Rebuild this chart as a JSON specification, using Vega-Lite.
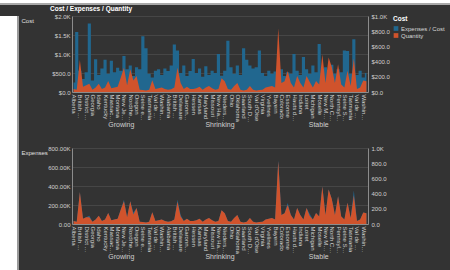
{
  "$schema": "https://vega.github.io/schema/vega-lite/v6.json",
  "background": "#333333",
  "padding": 0,
  "spacing": 0,
  "config": {
    "font": "Liberation Sans",
    "view": {"stroke": null},
    "axis": {"labelColor": "#d0d0d0", "labelFontSize": 6, "titleColor": "#e0e0e0", "titleFontSize": 6, "titleFontWeight": "normal", "domainColor": "#8c8c8c", "gridColor": "#464646", "ticks": false}
  },
  "datasets": {
    "d": [
      {"k": "Gro|Alberta", "grp": "Growing", "cost": 250, "qty": 40, "exp": 32000},
      {"k": "Gro|Arizona", "grp": "Growing", "cost": 1580, "qty": 30, "exp": 24000},
      {"k": "Gro|British Columbia", "grp": "Growing", "cost": 560, "qty": 420, "exp": 336000},
      {"k": "Gro|California", "grp": "Growing", "cost": 340, "qty": 70, "exp": 56000},
      {"k": "Gro|District of Columbia", "grp": "Growing", "cost": 520, "qty": 90, "exp": 72000},
      {"k": "Gro|Florida", "grp": "Growing", "cost": 1800, "qty": 110, "exp": 70000},
      {"k": "Gro|Georgia", "grp": "Growing", "cost": 300, "qty": 30, "exp": 24000},
      {"k": "Gro|Hamburg", "grp": "Growing", "cost": 860, "qty": 60, "exp": 48000},
      {"k": "Gro|Idaho", "grp": "Growing", "cost": 450, "qty": 110, "exp": 88000},
      {"k": "Gro|Iowa", "grp": "Growing", "cost": 620, "qty": 40, "exp": 32000},
      {"k": "Gro|Kentucky", "grp": "Growing", "cost": 850, "qty": 60, "exp": 48000},
      {"k": "Gro|Maine", "grp": "Growing", "cost": 480, "qty": 145, "exp": 116000},
      {"k": "Gro|Massachusetts", "grp": "Growing", "cost": 820, "qty": 50, "exp": 40000},
      {"k": "Gro|Minnesota", "grp": "Growing", "cost": 520, "qty": 60, "exp": 48000},
      {"k": "Gro|Montana", "grp": "Growing", "cost": 640, "qty": 70, "exp": 56000},
      {"k": "Gro|Nevada", "grp": "Growing", "cost": 560, "qty": 190, "exp": 152000},
      {"k": "Gro|New Jersey", "grp": "Growing", "cost": 950, "qty": 320, "exp": 240000},
      {"k": "Gro|New York", "grp": "Growing", "cost": 600, "qty": 90, "exp": 72000},
      {"k": "Gro|Nordrhein-Westfalen", "grp": "Growing", "cost": 700, "qty": 300, "exp": 240000},
      {"k": "Gro|Ohio", "grp": "Growing", "cost": 420, "qty": 150, "exp": 100000},
      {"k": "Gro|Oregon", "grp": "Growing", "cost": 650, "qty": 210, "exp": 168000},
      {"k": "Gro|Queensland", "grp": "Growing", "cost": 600, "qty": 30, "exp": 24000},
      {"k": "Gro|Seine et Marne", "grp": "Growing", "cost": 1470, "qty": 25, "exp": 20000},
      {"k": "Gro|South Australia", "grp": "Growing", "cost": 1150, "qty": 20, "exp": 16000},
      {"k": "Gro|Tasmania", "grp": "Growing", "cost": 480, "qty": 30, "exp": 24000},
      {"k": "Gro|Utah", "grp": "Growing", "cost": 380, "qty": 155, "exp": 124000},
      {"k": "Gro|Val de Marne", "grp": "Growing", "cost": 560, "qty": 40, "exp": 32000},
      {"k": "Gro|Victoria", "grp": "Growing", "cost": 600, "qty": 50, "exp": 40000},
      {"k": "Gro|Washington", "grp": "Growing", "cost": 450, "qty": 60, "exp": 48000},
      {"k": "Gro|Wyoming", "grp": "Growing", "cost": 620, "qty": 40, "exp": 32000},
      {"k": "Shr|Alabama", "grp": "Shrinking", "cost": 550, "qty": 30, "exp": 24000},
      {"k": "Shr|Arkansas", "grp": "Shrinking", "cost": 700, "qty": 35, "exp": 28000},
      {"k": "Shr|British Columbia", "grp": "Shrinking", "cost": 1250, "qty": 60, "exp": 48000},
      {"k": "Shr|Connecticut", "grp": "Shrinking", "cost": 1090, "qty": 320, "exp": 235000},
      {"k": "Shr|Delaware", "grp": "Shrinking", "cost": 500, "qty": 120, "exp": 80000},
      {"k": "Shr|England", "grp": "Shrinking", "cost": 700, "qty": 40, "exp": 32000},
      {"k": "Shr|Garonne (Haute)", "grp": "Shrinking", "cost": 420, "qty": 70, "exp": 56000},
      {"k": "Shr|Hawaii", "grp": "Shrinking", "cost": 550, "qty": 40, "exp": 32000},
      {"k": "Shr|Hessen", "grp": "Shrinking", "cost": 870, "qty": 40, "exp": 32000},
      {"k": "Shr|Illinois", "grp": "Shrinking", "cost": 500, "qty": 50, "exp": 40000},
      {"k": "Shr|Kansas", "grp": "Shrinking", "cost": 620, "qty": 70, "exp": 56000},
      {"k": "Shr|Louisiana", "grp": "Shrinking", "cost": 400, "qty": 30, "exp": 24000},
      {"k": "Shr|Maryland", "grp": "Shrinking", "cost": 680, "qty": 60, "exp": 48000},
      {"k": "Shr|Mississippi", "grp": "Shrinking", "cost": 450, "qty": 80, "exp": 64000},
      {"k": "Shr|Missouri", "grp": "Shrinking", "cost": 560, "qty": 50, "exp": 40000},
      {"k": "Shr|Nebraska", "grp": "Shrinking", "cost": 500, "qty": 30, "exp": 24000},
      {"k": "Shr|New Hampshire", "grp": "Shrinking", "cost": 1000, "qty": 40, "exp": 32000},
      {"k": "Shr|New South Wales", "grp": "Shrinking", "cost": 430, "qty": 180, "exp": 144000},
      {"k": "Shr|Niedersachsen", "grp": "Shrinking", "cost": 560, "qty": 140, "exp": 112000},
      {"k": "Shr|Nord", "grp": "Shrinking", "cost": 1350, "qty": 40, "exp": 32000},
      {"k": "Shr|Ohio", "grp": "Shrinking", "cost": 650, "qty": 30, "exp": 24000},
      {"k": "Shr|Oise", "grp": "Shrinking", "cost": 480, "qty": 80, "exp": 64000},
      {"k": "Shr|Oklahoma", "grp": "Shrinking", "cost": 700, "qty": 120, "exp": 96000},
      {"k": "Shr|Ontario", "grp": "Shrinking", "cost": 450, "qty": 30, "exp": 24000},
      {"k": "Shr|Saarland", "grp": "Shrinking", "cost": 1150, "qty": 20, "exp": 16000},
      {"k": "Shr|Saskatchewan", "grp": "Shrinking", "cost": 850, "qty": 30, "exp": 24000},
      {"k": "Shr|South Dakota", "grp": "Shrinking", "cost": 700, "qty": 80, "exp": 64000},
      {"k": "Shr|Tennessee", "grp": "Shrinking", "cost": 620, "qty": 30, "exp": 24000},
      {"k": "Shr|Val d'Oise", "grp": "Shrinking", "cost": 650, "qty": 20, "exp": 16000},
      {"k": "Shr|Vermont", "grp": "Shrinking", "cost": 1090, "qty": 25, "exp": 20000},
      {"k": "Shr|Virginia", "grp": "Shrinking", "cost": 500, "qty": 30, "exp": 24000},
      {"k": "Shr|West Virginia", "grp": "Shrinking", "cost": 420, "qty": 60, "exp": 48000},
      {"k": "Shr|Yvelines", "grp": "Shrinking", "cost": 560, "qty": 70, "exp": 56000},
      {"k": "Shr|Yukon", "grp": "Shrinking", "cost": 480, "qty": 80, "exp": 64000},
      {"k": "Sta|Bayern", "grp": "Stable", "cost": 540, "qty": 60, "exp": 48000},
      {"k": "Sta|Berlin", "grp": "Stable", "cost": 450, "qty": 840, "exp": 660000},
      {"k": "Sta|Colorado", "grp": "Stable", "cost": 600, "qty": 120, "exp": 96000},
      {"k": "Sta|Doubs", "grp": "Stable", "cost": 420, "qty": 140, "exp": 112000},
      {"k": "Sta|Essonne", "grp": "Stable", "cost": 520, "qty": 276, "exp": 200000},
      {"k": "Sta|Hampshire", "grp": "Stable", "cost": 480, "qty": 120, "exp": 96000},
      {"k": "Sta|Hauts de Seine", "grp": "Stable", "cost": 1000, "qty": 60, "exp": 48000},
      {"k": "Sta|Illinois", "grp": "Stable", "cost": 560, "qty": 210, "exp": 168000},
      {"k": "Sta|Indiana", "grp": "Stable", "cost": 450, "qty": 120, "exp": 96000},
      {"k": "Sta|Kentucky", "grp": "Stable", "cost": 920, "qty": 60, "exp": 48000},
      {"k": "Sta|Loiret", "grp": "Stable", "cost": 600, "qty": 210, "exp": 168000},
      {"k": "Sta|Manitoba", "grp": "Stable", "cost": 480, "qty": 130, "exp": 85000},
      {"k": "Sta|Michigan", "grp": "Stable", "cost": 700, "qty": 60, "exp": 48000},
      {"k": "Sta|Minnesota", "grp": "Stable", "cost": 520, "qty": 145, "exp": 116000},
      {"k": "Sta|Moselle", "grp": "Stable", "cost": 1260, "qty": 100, "exp": 80000},
      {"k": "Sta|Nevada", "grp": "Stable", "cost": 500, "qty": 495, "exp": 396000},
      {"k": "Sta|New Mexico", "grp": "Stable", "cost": 650, "qty": 120, "exp": 96000},
      {"k": "Sta|New York", "grp": "Stable", "cost": 420, "qty": 455, "exp": 364000},
      {"k": "Sta|North Carolina", "grp": "Stable", "cost": 720, "qty": 330, "exp": 264000},
      {"k": "Sta|Oregon", "grp": "Stable", "cost": 480, "qty": 120, "exp": 96000},
      {"k": "Sta|Pennsylvania", "grp": "Stable", "cost": 600, "qty": 364, "exp": 291000},
      {"k": "Sta|Québec", "grp": "Stable", "cost": 520, "qty": 100, "exp": 80000},
      {"k": "Sta|Seine Saint Denis", "grp": "Stable", "cost": 1090, "qty": 60, "exp": 48000},
      {"k": "Sta|South Carolina", "grp": "Stable", "cost": 1080, "qty": 280, "exp": 224000},
      {"k": "Sta|Tasmania", "grp": "Stable", "cost": 480, "qty": 80, "exp": 64000},
      {"k": "Sta|Texas", "grp": "Stable", "cost": 1390, "qty": 440, "exp": 300000},
      {"k": "Sta|Val de Marne", "grp": "Stable", "cost": 450, "qty": 40, "exp": 32000},
      {"k": "Sta|Victoria", "grp": "Stable", "cost": 560, "qty": 60, "exp": 48000},
      {"k": "Sta|Washington", "grp": "Stable", "cost": 380, "qty": 150, "exp": 120000},
      {"k": "Sta|Wisconsin", "grp": "Stable", "cost": 500, "qty": 140, "exp": 112000}
    ]
  },
  "vconcat": [
    {"width": 450, "height": 3, "data": {"values": []}, "mark": "rect", "encoding": {}, "view": {"fill": "#ffffff", "stroke": null}},
    {"width": 450, "height": 2, "data": {"values": []}, "mark": "rect", "encoding": {}, "view": {"fill": "#a9a9a9", "stroke": null}},
    {
      "spacing": 0,
      "hconcat": [
        {"width": 17, "height": 258, "data": {"values": []}, "mark": "rect", "encoding": {}, "view": {"fill": "#ffffff", "stroke": null}},
        {"width": 2, "height": 258, "data": {"values": []}, "mark": "rect", "encoding": {}, "view": {"fill": "#9a9a9a", "stroke": null}},
        {"width": 2, "height": 258, "data": {"values": []}, "mark": "rect", "encoding": {}, "view": {"fill": "#333333", "stroke": null}},
        {
          "title": {"text": "Cost / Expenses / Quantity", "anchor": "start", "dx": 29, "fontSize": 6.5, "fontWeight": "bold", "color": "#ffffff", "offset": 1},
          "spacing": 18,
          "vconcat": [
            {
              "data": {"name": "d"},
              "width": 296,
              "height": 76,
              "layer": [
                {
                  "layer": [
                    {
                      "mark": {"type": "area", "interpolate": "step"},
                      "encoding": {
                        "x": {"field": "k", "type": "nominal", "sort": null, "scale": {"type": "point", "padding": 0.5},
                          "axis": {"orient": "bottom", "title": null, "labelExpr": "slice(datum.label, 4)", "labelAngle": 90, "labelFontSize": 6, "labelLimit": 28, "labelPadding": 2, "labelOverlap": false, "grid": false, "domain": true,
                            "values": ["Gro|Alberta","Gro|British Columbia","Gro|District of Columbia","Gro|Georgia","Gro|Idaho","Gro|Kentucky","Gro|Massachusetts","Gro|Montana","Gro|New Jersey","Gro|Nordrhein-Westfalen","Gro|Oregon","Gro|Seine et Marne","Gro|Tasmania","Gro|Val de Marne","Gro|Washington","Shr|Alabama","Shr|British Columbia","Shr|Delaware","Shr|Garonne (Haute)","Shr|Hessen","Shr|Kansas","Shr|Maryland","Shr|Missouri","Shr|New Hampshire","Shr|Niedersachsen","Shr|Ohio","Shr|Oklahoma","Shr|Saarland","Shr|South Dakota","Shr|Val d'Oise","Shr|Virginia","Shr|Yvelines","Sta|Bayern","Sta|Colorado","Sta|Essonne","Sta|Hauts de Seine","Sta|Indiana","Sta|Loiret","Sta|Michigan","Sta|Moselle","Sta|New Mexico","Sta|North Carolina","Sta|Pennsylvania","Sta|Seine Saint Denis","Sta|Tasmania","Sta|Val de Marne","Sta|Washington"]}},
                        "y": {"field": "cost", "type": "quantitative", "scale": {"domain": [0, 2000], "nice": false},
                          "axis": {"orient": "left", "values": [0, 500, 1000, 1500, 2000], "labelExpr": "datum.value >= 1000 ? '$' + format(datum.value / 1000, '.1f') + 'K' : '$' + format(datum.value, '.1f')", "grid": true, "labelPadding": 2, "title": "Cost", "titleAngle": 0, "titleAlign": "left", "titleBaseline": "top", "titleX": -51, "titleY": 1}},
                        "color": {"datum": "Expenses / Cost", "type": "nominal",
                          "scale": {"domain": ["Expenses / Cost", "Quantity"], "range": ["#21678f", "#d0532c"]},
                          "legend": {"title": "Cost", "orient": "none", "legendX": 393, "legendY": 16, "symbolType": "square", "symbolSize": 22, "symbolStrokeWidth": 0, "labelFontSize": 6, "titleFontSize": 6.5, "titleFontWeight": "bold", "labelColor": "#d8d8d8", "titleColor": "#ffffff", "labelLimit": 45, "rowPadding": 1, "titlePadding": 3, "labelOffset": 2}}
                      }
                    },
                    {
                      "mark": {"type": "area"},
                      "encoding": {
                        "x": {"field": "k", "type": "nominal", "sort": null, "scale": {"type": "point", "padding": 0.5}},
                        "y": {"field": "qty", "type": "quantitative", "scale": {"domain": [0, 1000], "nice": false},
                          "axis": {"orient": "right", "values": [0, 200, 400, 600, 800, 1000], "labelExpr": "datum.value >= 1000 ? '$' + format(datum.value / 1000, '.1f') + 'K' : '$' + format(datum.value, '.1f')", "grid": false, "labelPadding": 3, "title": null}},
                        "color": {"datum": "Quantity", "type": "nominal"}
                      }
                    }
                  ],
                  "resolve": {"scale": {"y": "independent"}}
                },
                {
                  "mark": {"type": "tick", "opacity": 0},
                  "encoding": {
                    "x": {"field": "grp", "type": "nominal", "sort": ["Growing", "Shrinking", "Stable"], "scale": {"type": "band", "paddingInner": 0, "paddingOuter": 0},
                      "axis": {"orient": "bottom", "title": null, "offset": 28, "domain": false, "grid": false, "labelAngle": 0, "labelPadding": 0, "labelFontSize": 7, "labelColor": "#d0d0d0"}}
                  }
                }
              ],
              "resolve": {"scale": {"x": "independent"}}
            },
            {
              "data": {"name": "d"},
              "width": 296,
              "height": 76,
              "layer": [
                {
                  "layer": [
                    {
                      "mark": {"type": "area"},
                      "encoding": {
                        "x": {"field": "k", "type": "nominal", "sort": null, "scale": {"type": "point", "padding": 0.5},
                          "axis": {"orient": "bottom", "title": null, "labelExpr": "slice(datum.label, 4)", "labelAngle": 90, "labelFontSize": 6, "labelLimit": 28, "labelPadding": 2, "labelOverlap": false, "grid": false, "domain": true,
                            "values": ["Gro|Alberta","Gro|British Columbia","Gro|District of Columbia","Gro|Georgia","Gro|Idaho","Gro|Kentucky","Gro|Massachusetts","Gro|Montana","Gro|New Jersey","Gro|Nordrhein-Westfalen","Gro|Oregon","Gro|Seine et Marne","Gro|Tasmania","Gro|Val de Marne","Gro|Washington","Shr|Alabama","Shr|British Columbia","Shr|Delaware","Shr|Garonne (Haute)","Shr|Hessen","Shr|Kansas","Shr|Maryland","Shr|Missouri","Shr|New Hampshire","Shr|Niedersachsen","Shr|Ohio","Shr|Oklahoma","Shr|Saarland","Shr|South Dakota","Shr|Val d'Oise","Shr|Virginia","Shr|Yvelines","Sta|Bayern","Sta|Colorado","Sta|Essonne","Sta|Hauts de Seine","Sta|Indiana","Sta|Loiret","Sta|Michigan","Sta|Moselle","Sta|New Mexico","Sta|North Carolina","Sta|Pennsylvania","Sta|Seine Saint Denis","Sta|Tasmania","Sta|Val de Marne","Sta|Washington"]}},
                        "y": {"field": "qty", "type": "quantitative", "scale": {"domain": [0, 1000], "nice": false},
                          "axis": {"orient": "right", "values": [0, 200, 400, 600, 800, 1000], "labelExpr": "datum.value >= 1000 ? format(datum.value / 1000, '.1f') + 'K' : format(datum.value, '.1f')", "grid": false, "labelPadding": 3, "title": null}},
                        "color": {"datum": "Expenses / Cost", "type": "nominal"}
                      }
                    },
                    {
                      "mark": {"type": "area"},
                      "encoding": {
                        "x": {"field": "k", "type": "nominal", "sort": null, "scale": {"type": "point", "padding": 0.5}},
                        "y": {"field": "exp", "type": "quantitative", "scale": {"domain": [0, 800000], "nice": false},
                          "axis": {"orient": "left", "values": [0, 200000, 400000, 600000, 800000], "labelExpr": "datum.value >= 1000 ? format(datum.value / 1000, '.2f') + 'K' : format(datum.value, '.2f')", "grid": true, "labelPadding": 2, "title": "Expenses", "titleAngle": 0, "titleAlign": "left", "titleBaseline": "top", "titleX": -51, "titleY": 1}},
                        "color": {"datum": "Quantity", "type": "nominal"}
                      }
                    }
                  ],
                  "resolve": {"scale": {"y": "independent"}}
                },
                {
                  "mark": {"type": "tick", "opacity": 0},
                  "encoding": {
                    "x": {"field": "grp", "type": "nominal", "sort": ["Growing", "Shrinking", "Stable"], "scale": {"type": "band", "paddingInner": 0, "paddingOuter": 0},
                      "axis": {"orient": "bottom", "title": null, "offset": 28, "domain": false, "grid": false, "labelAngle": 0, "labelPadding": 0, "labelFontSize": 7, "labelColor": "#d0d0d0"}}
                  }
                }
              ],
              "resolve": {"scale": {"x": "independent"}}
            }
          ]
        }
      ]
    },
    {"width": 450, "height": 3, "data": {"values": []}, "mark": "rect", "encoding": {}, "view": {"fill": "#8c8c8c", "stroke": null}},
    {"width": 450, "height": 4, "data": {"values": []}, "mark": "rect", "encoding": {}, "view": {"fill": "#eeeeee", "stroke": null}}
  ]
}
